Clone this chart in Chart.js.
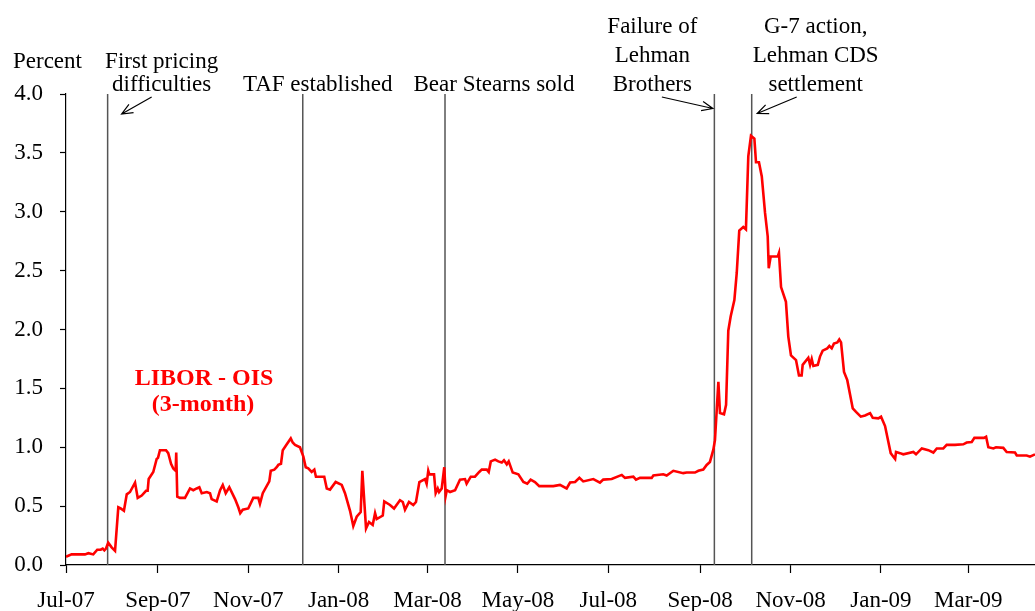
<!DOCTYPE html>
<html>
<head>
<meta charset="utf-8">
<script src="https://cdn.jsdelivr.net/npm/chart.js@4.4.1/dist/chart.umd.min.js"></script>
<style>
  html, body { margin: 0; padding: 0; background: #fff; }
  #wrap { width: 1035px; height: 611px; position: relative; }
</style>
</head>
<body>
<div id="wrap"><canvas id="liborOisChart"></canvas></div>
<script>
// x values are days counted from 1 Jul 2007
const days = [
    0, 3.8, 12.8, 15.1, 18.4, 21.1, 23.4, 24.8, 25.9, 27.0,
    28.5, 30.8, 33.1, 35.3, 36.9, 39.1, 41.0, 43.2, 46.6, 48.4,
    51.1, 54.0, 55.1, 55.8, 58.9, 61.2, 62.1, 63.4, 67.5, 69.0,
    70.9, 72.4, 74.0, 74.4, 75.1, 76.9, 80.3, 83.7, 85.9, 88.2,
    90.0, 91.6, 95.0, 97.2, 98.3, 101.7, 104.0, 105.8, 107.8, 110.2,
    114.1, 116.3, 117.6, 119.3, 123.0, 126.4, 129.8, 130.9, 132.8, 137.2,
    138.2, 140.6, 142.2, 143.3, 145.1, 146.3, 149.0, 151.7, 153.0, 154.6,
    157.9, 160.2, 161.8, 163.5, 165.8, 167.6, 168.7, 174.3, 176.0, 178.2,
    182.0, 186.1, 188.3, 191.7, 193.9, 196.2, 198.9, 200.0, 202.5, 204.5,
    207.0, 208.6, 209.7, 213.8, 214.8, 218.7, 221.4, 225.4, 227.3, 228.8,
    231.5, 234.4, 236.2, 238.5, 242.3, 243.4, 244.5, 245.2, 248.4, 249.5,
    250.9, 251.8, 253.6, 255.3, 256.3, 257.0, 259.2, 262.6, 265.9, 269.3,
    270.4, 273.2, 276.0, 278.9, 280.6, 284.0, 285.3, 286.7, 289.6, 291.8,
    294.1, 295.6, 297.5, 298.8, 301.5, 305.3, 308.7, 311.3, 313.6, 316.5,
    319.4, 328.9, 333.4, 337.9, 340.2, 343.6, 346.5, 349.1, 355.9, 360.4,
    362.6, 368.3, 375.1, 377.3, 382.9, 384.7, 387.4, 395.3, 396.4, 403.1,
    405.4, 409.9, 416.6, 418.9, 424.5, 426.8, 430.1, 432.4, 434.6, 436.9,
    438.0, 440.3, 441.4, 444.1, 445.5, 447.0, 448.6, 451.1, 452.7, 454.4,
    457.1, 458.9, 460.5, 462.3, 464.6, 465.7, 467.7, 469.6, 471.8, 473.6,
    474.3, 475.6, 480.4, 481.2, 482.6, 485.9, 487.5, 489.3, 492.7, 494.7,
    496.5, 497.2, 501.0, 502.2, 503.3, 504.4, 507.4, 508.9, 510.7, 513.8,
    515.2, 516.8, 518.3, 520.6, 521.9, 523.1, 525.1, 527.3, 531.0, 533.2,
    536.4, 539.3, 542.7, 544.5, 548.3, 550.1, 552.8, 554.3, 556.6, 558.4,
    559.6, 560.2, 562.9, 565.1, 571.9, 573.7, 577.6, 582.0, 585.4, 587.7,
    592.1, 594.4, 600.0, 605.6, 607.9, 611.3, 613.1, 619.6, 621.0, 622.5,
    625.9, 627.7, 632.6, 634.9, 640.5, 641.7, 648.4, 650.6, 654.0
];

const liborOis = [
    0.07, 0.09, 0.09, 0.10, 0.09, 0.13, 0.13, 0.14, 0.125, 0.14,
    0.19, 0.15, 0.12, 0.49, 0.48, 0.46, 0.60, 0.62, 0.70, 0.57,
    0.59, 0.63, 0.63, 0.73, 0.79, 0.90, 0.91, 0.975, 0.975, 0.95,
    0.86, 0.82, 0.80, 0.955, 0.58, 0.57, 0.57, 0.65, 0.635, 0.65,
    0.66, 0.61, 0.62, 0.61, 0.56, 0.54, 0.635, 0.68, 0.61, 0.66,
    0.56, 0.49, 0.44, 0.47, 0.48, 0.57, 0.57, 0.52, 0.61, 0.71,
    0.80, 0.81, 0.83, 0.85, 0.86, 0.975, 1.025, 1.075, 1.04, 1.02,
    1.00, 0.92, 0.83, 0.82, 0.79, 0.81, 0.75, 0.75, 0.65, 0.64,
    0.705, 0.68, 0.61, 0.46, 0.33, 0.41, 0.45, 0.80, 0.31, 0.365,
    0.34, 0.44, 0.39, 0.42, 0.54, 0.51, 0.48, 0.55, 0.535, 0.47,
    0.535, 0.51, 0.535, 0.705, 0.73, 0.69, 0.80, 0.77, 0.77, 0.61,
    0.65, 0.62, 0.65, 0.83, 0.59, 0.635, 0.62, 0.635, 0.725, 0.73,
    0.69, 0.75, 0.75, 0.79, 0.81, 0.81, 0.79, 0.88, 0.895, 0.88,
    0.87, 0.89, 0.855, 0.88, 0.785, 0.77, 0.705, 0.69, 0.725, 0.705,
    0.67, 0.67, 0.68, 0.65, 0.70, 0.705, 0.74, 0.71, 0.73, 0.70,
    0.725, 0.73, 0.765, 0.74, 0.75, 0.725, 0.74, 0.74, 0.76, 0.77,
    0.76, 0.80, 0.78, 0.785, 0.785, 0.80, 0.81, 0.85, 0.875, 0.98,
    1.06, 1.555, 1.29, 1.28, 1.36, 1.99, 2.11, 2.25, 2.48, 2.84,
    2.87, 2.85, 3.47, 3.645, 3.62, 3.42, 3.42, 3.30, 2.99, 2.79,
    2.52, 2.62, 2.62, 2.65, 2.36, 2.235, 1.94, 1.78, 1.74, 1.61,
    1.61, 1.70, 1.76, 1.70, 1.75, 1.69, 1.70, 1.77, 1.82, 1.84,
    1.86, 1.84, 1.88, 1.89, 1.915, 1.89, 1.64, 1.57, 1.33, 1.30,
    1.26, 1.27, 1.29, 1.25, 1.245, 1.26, 1.18, 1.09, 0.95, 0.92,
    0.90, 0.96, 0.95, 0.94, 0.96, 0.94, 0.99, 0.975, 0.955, 0.99,
    0.99, 1.02, 1.02, 1.025, 1.04, 1.045, 1.08, 1.08, 1.09, 1.00,
    0.99, 1.00, 0.995, 0.96, 0.955, 0.93, 0.93, 0.92, 0.94
];

const tickDays = [0, 62, 123, 184, 244, 305, 366, 428, 489, 550, 609];
const tickLabels = ['Jul-07', 'Sep-07', 'Nov-07', 'Jan-08', 'Mar-08', 'May-08',
                    'Jul-08', 'Sep-08', 'Nov-08', 'Jan-09', 'Mar-09'];

const eventDays = [28.1, 159.8, 255.8, 437.6, 462.8];
const eventLabels = [
    ['First pricing', 'difficulties'],
    ['TAF established'],
    ['Bear Stearns sold'],
    ['Failure of', 'Lehman', 'Brothers'],
    ['G-7 action,', 'Lehman CDS', 'settlement']
];

const FONT = '"Liberation Serif", "Times New Roman", serif';

// text placement relative to each event line (pixels)
const labelLayout = [
    { dx: 54, lineGap: 22.5 },
    { dx: 15, lineGap: 28.5 },
    { dx: 49, lineGap: 28.5 },
    { dx: -62, lineGap: 28.8 },
    { dx: 64, lineGap: 28.8 }
];
const arrowLayout = [
    { ev: 0, from: [44, 97], to: [14, 114] },
    { ev: 3, from: [-52.5, 97], to: [-1.5, 108.5] },
    { ev: 4, from: [45, 97], to: [5.5, 113.5] }
];

const annotations = {
    id: 'annotations',
    afterDraw(chart) {
        const { ctx, scales: { x } } = chart;
        ctx.save();
        ctx.fillStyle = '#000';
        ctx.font = '23px ' + FONT;
        ctx.textBaseline = 'alphabetic';

        ctx.textAlign = 'left';
        ctx.fillText('Percent', 13, 68);

        ctx.textAlign = 'center';
        eventLabels.forEach((lines, i) => {
            const px = x.getPixelForValue(eventDays[i]) + labelLayout[i].dx;
            const gap = labelLayout[i].lineGap;
            lines.forEach((txt, j) => {
                ctx.fillText(txt, px, 90.5 - (lines.length - 1 - j) * gap);
            });
        });

        // arrows
        ctx.strokeStyle = '#000';
        ctx.lineWidth = 1.2;
        arrowLayout.forEach(a => {
            const px = x.getPixelForValue(eventDays[a.ev]);
            const x1 = px + a.from[0], y1 = a.from[1];
            const x2 = px + a.to[0], y2 = a.to[1];
            const ang = Math.atan2(y2 - y1, x2 - x1);
            ctx.beginPath();
            ctx.moveTo(x1, y1);
            ctx.lineTo(x2, y2);
            ctx.moveTo(x2 - 12 * Math.cos(ang - 0.4), y2 - 12 * Math.sin(ang - 0.4));
            ctx.lineTo(x2, y2);
            ctx.lineTo(x2 - 12 * Math.cos(ang + 0.4), y2 - 12 * Math.sin(ang + 0.4));
            ctx.stroke();
        });

        // series label
        ctx.fillStyle = '#ff0000';
        ctx.font = 'bold 24px ' + FONT;
        ctx.fillText('LIBOR - OIS', 204, 385);
        ctx.fillText('(3-month)', 203, 410.5);
        ctx.restore();
    }
};

const eventDatasets = eventDays.map(d => ({
    data: [{ x: d, y: 0 }, { x: d, y: 4 }],
    borderColor: '#555555',
    borderWidth: 1.5,
    pointRadius: 0,
    order: 2
}));

new Chart(document.getElementById('liborOisChart'), {
    type: 'line',
    data: {
        datasets: [{
            label: 'LIBOR - OIS (3-month)',
            data: days.map((d, i) => ({ x: d, y: liborOis[i] })),
            borderColor: '#ff0000',
            borderWidth: 2.6,
            pointRadius: 0,
            tension: 0,
            order: 1
        }, ...eventDatasets]
    },
    options: {
        responsive: true,
        maintainAspectRatio: false,
        animation: false,
        layout: { padding: { top: 94, left: 0, right: 0, bottom: 0 } },
        plugins: {
            legend: { display: false },
            tooltip: { enabled: false },
            title: { display: false }
        },
        scales: {
            x: {
                type: 'linear',
                min: 0,
                max: 654,
                afterBuildTicks: scale => {
                    scale.ticks = tickDays.map(v => ({ value: v }));
                },
                afterFit: scale => { scale.height = 46; },
                ticks: {
                    autoSkip: false,
                    maxRotation: 0,
                    padding: 14,
                    color: '#000',
                    font: { family: FONT, size: 23 },
                    callback: (value, index) => tickLabels[index]
                },
                grid: {
                    drawOnChartArea: false,
                    drawTicks: true,
                    tickLength: 8,
                    tickColor: '#000',
                    tickWidth: 1.2
                },
                border: { display: true, color: '#000', width: 1.2 }
            },
            y: {
                min: 0,
                max: 4,
                afterFit: scale => { scale.width = 66; },
                ticks: {
                    stepSize: 0.5,
                    padding: 17,
                    color: '#000',
                    font: { family: FONT, size: 23 },
                    callback: v => v.toFixed(1)
                },
                grid: {
                    drawOnChartArea: false,
                    drawTicks: true,
                    tickLength: 6,
                    tickColor: '#000',
                    tickWidth: 1.2
                },
                border: { display: true, color: '#000', width: 1.2 }
            }
        }
    },
    plugins: [annotations]
});
</script>
</body>
</html>
